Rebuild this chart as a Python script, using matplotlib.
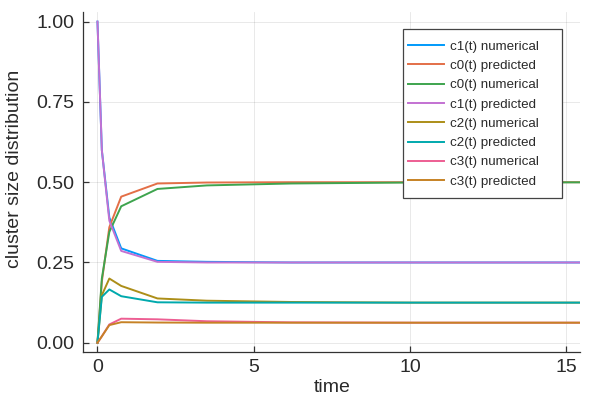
import matplotlib
matplotlib.use("Agg")
import matplotlib.pyplot as plt
from matplotlib.patches import Rectangle

t = [0, 0.14, 0.38, 0.76, 1.92, 3.5, 6.2, 10, 20]
c1_num = [1.0, 0.60, 0.39, 0.294, 0.255, 0.252, 0.250, 0.250, 0.250]
c0_pred = [0.0, 0.19, 0.36, 0.455, 0.496, 0.499, 0.500, 0.500, 0.500]
c0_num = [0.0, 0.20, 0.345, 0.425, 0.479, 0.490, 0.496, 0.499, 0.500]
c1_pred = [1.0, 0.60, 0.38, 0.286, 0.252, 0.250, 0.250, 0.250, 0.250]
c2_num = [0.0, 0.148, 0.200, 0.177, 0.138, 0.131, 0.127, 0.125, 0.125]
c2_pred = [0.0, 0.143, 0.166, 0.145, 0.126, 0.125, 0.125, 0.125, 0.125]
c3_num = [0.0, 0.02, 0.057, 0.075, 0.073, 0.067, 0.0635, 0.0625, 0.0625]
c3_pred = [0.0, 0.02, 0.055, 0.064, 0.063, 0.0625, 0.0625, 0.0625, 0.0625]

series = [
    ("c1(t) numerical", c1_num, "#009AFA"),
    ("c0(t) predicted", c0_pred, "#E36F47"),
    ("c0(t) numerical", c0_num, "#3EA44E"),
    ("c1(t) predicted", c1_pred, "#C371D2"),
    ("c2(t) numerical", c2_num, "#AC8E18"),
    ("c2(t) predicted", c2_pred, "#00A9AD"),
    ("c3(t) numerical", c3_num, "#ED5E93"),
    ("c3(t) predicted", c3_pred, "#C68225"),
]

plt.rcParams['font.family'] = ['Liberation Sans', 'DejaVu Sans']
txt = '#2a2a2a'

fig = plt.figure(figsize=(6, 4), dpi=100)
ax = fig.add_axes([0.139, 0.119, 0.828, 0.851])

for name, vals, col in series:
    ax.plot(t, vals, color=col, lw=1.4, label=name)

ax.set_xlim(-0.45, 15.45)
ax.set_ylim(-0.03, 1.03)
ax.set_xticks([0, 5, 10, 15])
ax.set_yticks([0, 0.25, 0.5, 0.75, 1.0])
ax.set_yticklabels(["0.00", "0.25", "0.50", "0.75", "1.00"])
ax.grid(True, color='black', alpha=0.1, lw=0.6)
ax.set_axisbelow(True)
for s in ['top', 'right']:
    ax.spines[s].set_visible(False)
for s in ['left', 'bottom']:
    ax.spines[s].set_color('#333333')
    ax.spines[s].set_linewidth(0.9)
ax.tick_params(direction='in', length=4, width=0.9, color='#333333',
               labelsize=14, labelcolor=txt, pad=5)
ax.tick_params(axis='y', pad=6.4)
ax.set_xlabel("time", fontsize=14, color=txt, labelpad=2)
ax.set_ylabel("cluster size distribution", fontsize=14, color=txt)
ax.yaxis.set_label_coords(-0.122, 0.54)

# legend frame drawn as a plain rectangle (figure pixels 403..562 x 29..198)
frame = Rectangle((403 / 600, 1 - 198 / 400), 159 / 600, 169 / 400,
                  transform=fig.transFigure, facecolor='white',
                  edgecolor='#444444', lw=0.9, zorder=5)
fig.patches.append(frame)

leg = fig.legend(loc='upper left', bbox_to_anchor=(408 / 600, 1 - 40.5 / 400),
                 fontsize=9.6, frameon=False,
                 handlelength=2.7, handletextpad=0.45, labelspacing=0.52,
                 borderpad=0, borderaxespad=0)
leg.set_zorder(6)
for tx in leg.get_texts():
    tx.set_color(txt)

fig.savefig("out.png", dpi=100)
